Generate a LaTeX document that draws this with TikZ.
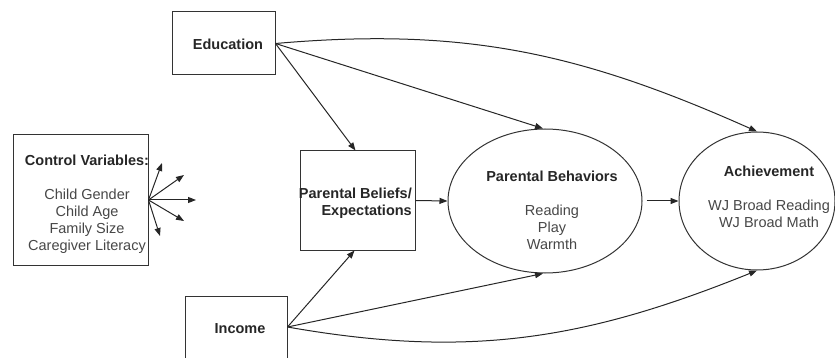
\documentclass[tikz,border=0pt]{standalone}
\usepackage{fontspec}
\setmainfont{Liberation Sans}
\usetikzlibrary{arrows.meta,shapes.geometric}

\begin{document}
\begin{tikzpicture}[x=1pt,y=1pt,
  link/.style={draw=black!85, line width=1pt, -{Triangle[length=8pt,width=6pt]}},
  varbox/.style={draw=black!80, line width=1pt, rectangle, inner sep=0pt},
  construct/.style={draw=black!80, line width=1pt, ellipse, inner sep=0pt},
  txt/.style={inner sep=0pt, align=center, text=black!72,
    font=\fontsize{14.5}{17}\selectfont},
  head/.style={font=\bfseries}
]
\useasboundingbox (0,0) rectangle (835,-358);
\clip (0,0) rectangle (835,-358);

% boxes for the observed variables
\node[varbox, minimum width=135pt, minimum height=130pt] (Control) at (80.5,-200) {};
\node[varbox, minimum width=103pt, minimum height=63pt] (Education) at (223.5,-43.5) {};
\node[varbox, minimum width=115pt, minimum height=99pt] (Beliefs) at (357.5,-200.5) {};
\node[varbox, minimum width=102pt, minimum height=62pt] (Income) at (236,-327) {};

% latent constructs
\node[construct, minimum width=194pt, minimum height=144pt] (Behaviors) at (545,-201) {};
\node[construct, minimum width=156pt, minimum height=138pt] (Achievement) at (757,-201) {};

% texts
\node[txt] (ControlText) at (87,-204.5)
  {\textcolor{black!85}{\bfseries Control Variables:}\\[17pt]Child Gender\\Child Age\\Family Size\\Caregiver Literacy};
\node[txt, text=black!85, font=\fontsize{14.5}{17}\selectfont\bfseries] (EducationText) at (228,-44) {Education};
\node[txt, text=black!85, font=\fontsize{14.5}{17}\selectfont\bfseries] (IncomeText) at (240,-329) {Income};
\node[txt, text=black!85, align=right, anchor=east, font=\fontsize{14.5}{17}\selectfont\bfseries]
  (BeliefsText) at (412,-203.5) {Parental Beliefs/\\Expectations};
\node[txt] (BehaviorsText) at (552,-210.5)
  {\textcolor{black!85}{\bfseries Parental Behaviors}\\[17pt]Reading\\Play\\Warmth};
\node[txt] (AchievementText) at (769,-196.5)
  {\textcolor{black!85}{\bfseries Achievement}\\[17pt]WJ Broad Reading\\WJ Broad Math};

% free ends of the control-variable arrows
\coordinate (cv1) at (162,-163);
\coordinate (cv2) at (184,-175);
\coordinate (cv3) at (196,-200);
\coordinate (cv4) at (184,-221);
\coordinate (cv5) at (160,-236);
\foreach \c in {cv1,cv2,cv3,cv4,cv5}
  \draw[link] (Control.east) -- (\c);

% paths of the model
\draw[link] (Education.east) -- ([xshift=-2pt]Beliefs.north);
\draw[link] (Education.east) -- ([xshift=-2pt]Behaviors.north);
\draw[link] (Education.east) to[out=5,in=156] (Achievement.north);
\draw[link] (Income.east) -- ([xshift=-3pt]Beliefs.south);
\draw[link] (Income.east) -- ([xshift=-2pt]Behaviors.south);
\draw[link] (Income.east) to[out=-10,in=-158] (Achievement.south);
\draw[link] (Beliefs.east) -- (Behaviors.west);
\draw[link, shorten <=4pt] (Behaviors.east) -- (Achievement.west);
\end{tikzpicture}
\end{document}
